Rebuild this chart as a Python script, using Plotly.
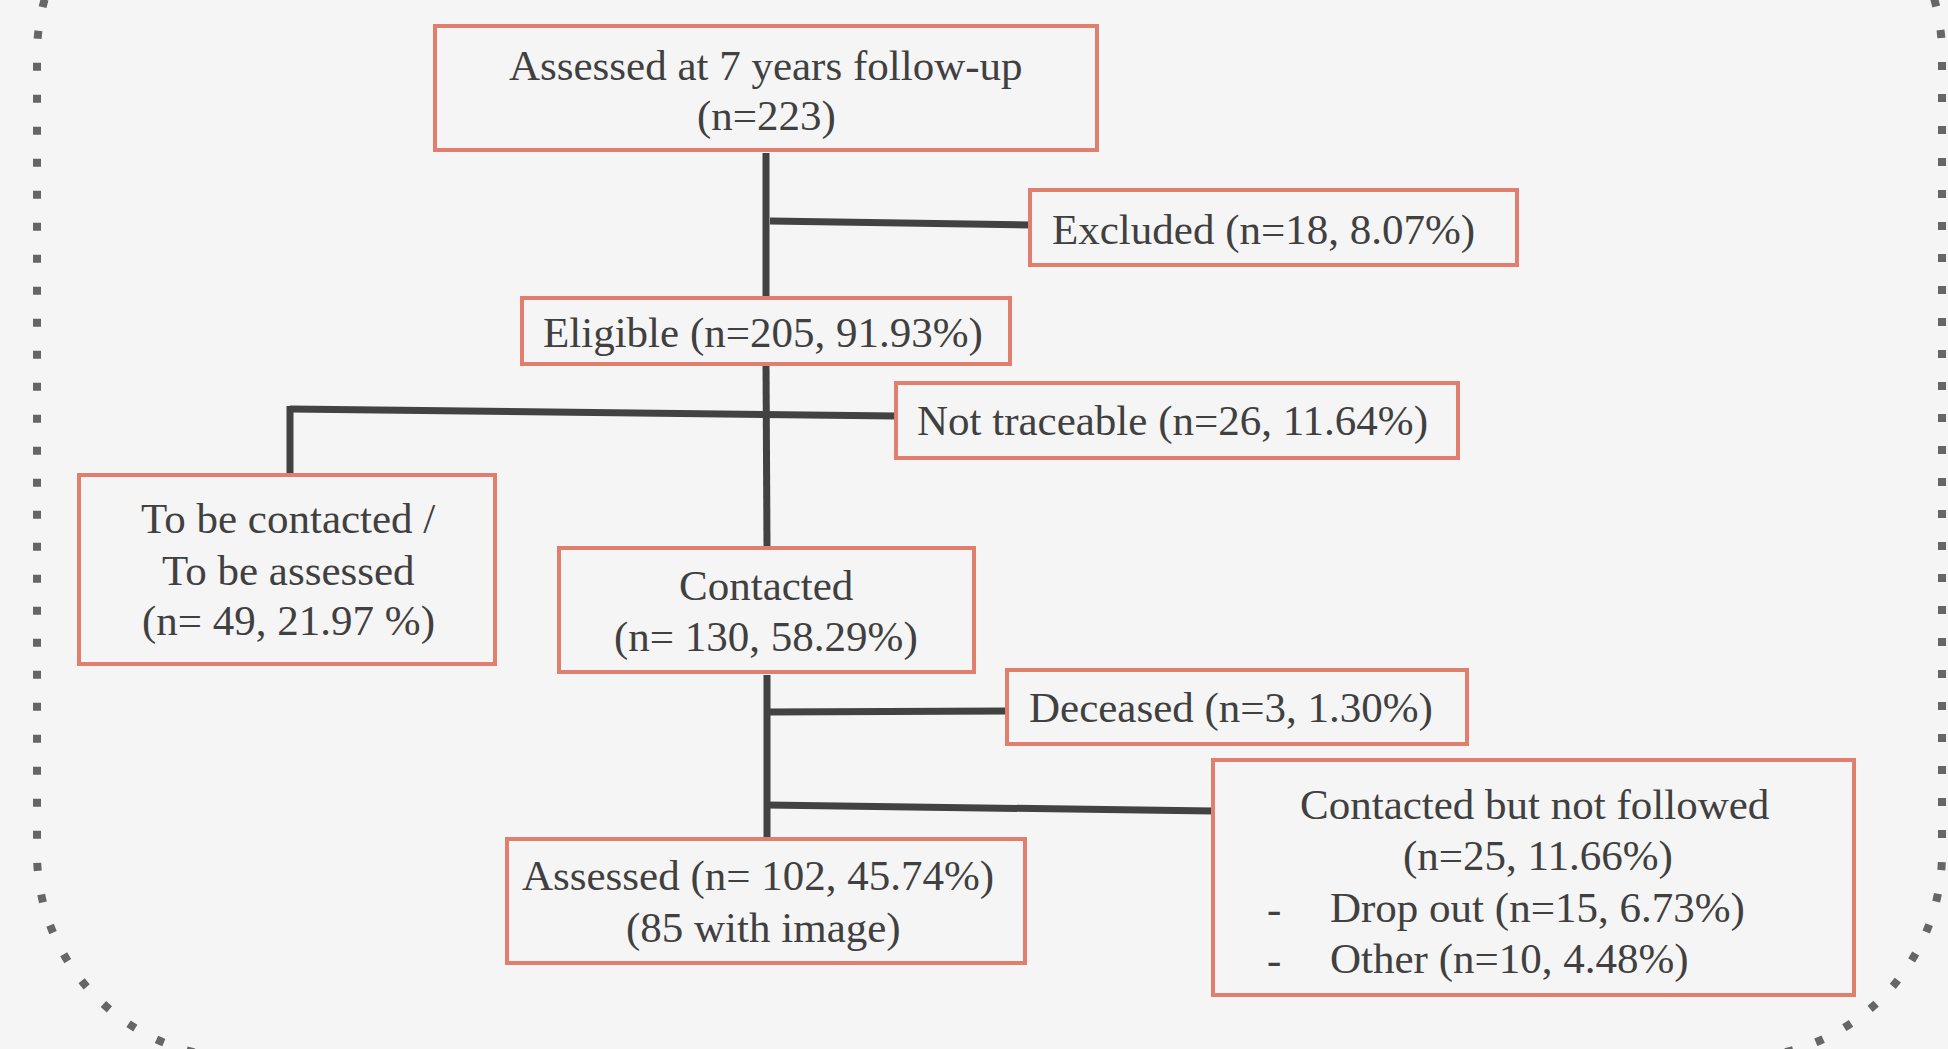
import plotly.graph_objects as go

# ---------------- data ----------------
node_names = ["Assessed at 7 years follow-up", "Excluded", "Eligible", "Not traceable",
              "To be contacted /", "Contacted", "Deceased", "Contacted but not followed",
              "Assessed", "Drop out", "Other"]
node_counts = [223, 18, 205, 26, 49, 130, 3, 25, 102, 15, 10]
node_pcts = [None, "8.07", "91.93", "11.64", "21.97", "58.29", "1.30", "11.66", "45.74", "6.73", "4.48"]
with_image = 85

# ---------------- styles ----------------
W, H = 1948, 1049
BG = "#f5f5f5"
BOX_COLOR = "#e07f6e"
LINE_COLOR = "#424242"
TEXT_COLOR = "#404040"
FONT = "Liberation Serif, Times New Roman, serif"
FS = 43

# text lines per box
texts = {
    "top": [f"{node_names[0]}", f"(n={node_counts[0]})"],
    "excl": [f"{node_names[1]} (n={node_counts[1]}, {node_pcts[1]}%)"],
    "elig": [f"{node_names[2]} (n={node_counts[2]}, {node_pcts[2]}%)"],
    "notr": [f"{node_names[3]} (n={node_counts[3]}, {node_pcts[3]}%)"],
    "tobe": [node_names[4], "To be assessed", f"(n= {node_counts[4]}, {node_pcts[4]} %)"],
    "cont": [node_names[5], f"(n= {node_counts[5]}, {node_pcts[5]}%)"],
    "dec": [f"{node_names[6]} (n={node_counts[6]}, {node_pcts[6]}%)"],
    "cbnf": [node_names[7], f"(n={node_counts[7]}, {node_pcts[7]}%)",
             f"{node_names[9]} (n={node_counts[9]}, {node_pcts[9]}%)",
             f"{node_names[10]} (n={node_counts[10]}, {node_pcts[10]}%)"],
    "ass": [f"{node_names[8]} (n= {node_counts[8]}, {node_pcts[8]}%)", f"({with_image} with image)"],
}

# layout of boxes (x0, y0, x1, y1) in pixels, y downward
boxes = {
    "top": (435, 26, 1097, 150),
    "excl": (1030, 190, 1517, 265),
    "elig": (522, 298, 1010, 364),
    "notr": (896, 383, 1458, 458),
    "tobe": (79, 475, 495, 664),
    "cont": (559, 548, 974, 672),
    "dec": (1007, 670, 1467, 744),
    "cbnf": (1213, 760, 1854, 995),
    "ass": (507, 839, 1025, 963),
}

# text placements: list of (x, y, anchor) per line
text_pos = {
    "top": [(766, 65, "center"), (766, 116, "center")],
    "excl": [(1050, 230, "left")],
    "elig": [(541, 333, "left")],
    "notr": [(915, 421, "left")],
    "tobe": [(288, 518, "center"), (288, 570, "center"), (288, 621, "center")],
    "cont": [(766, 585, "center"), (766, 637, "center")],
    "dec": [(1027, 708, "left")],
    "cbnf": [(1534, 804, "center"), (1538, 856, "center"), (1328, 908, "left"), (1328, 959, "left")],
    "ass": [(758, 876, "center"), (763, 928, "center")],
}
bullets = [(1274, 908), (1274, 959)]

# connectors (x0, y0, x1, y1)
connectors = [
    (766, 153, 766, 298),
    (770, 221, 1030, 225),
    (766, 364, 767, 548),
    (290, 409, 896, 416),
    (290, 406, 290, 475),
    (767, 675, 767, 839),
    (767, 712, 1007, 711),
    (767, 805, 1213, 811),
]

fig = go.Figure()
fig.add_trace(go.Scatter(x=[0, W], y=[0, H], mode="markers", marker=dict(opacity=0),
                         hoverinfo="skip", showlegend=False))

shapes = []

# dotted rounded outer frame
x0, x1, yt, yb, r = 37, 1942, -150, 1058, 205
k = 0.5523 * r
path = (f"M {x0+r},{yt} L {x1-r},{yt} "
        f"C {x1-r+k},{yt} {x1},{yt+r-k} {x1},{yt+r} "
        f"L {x1},{yb-r} "
        f"C {x1},{yb-r+k} {x1-r+k},{yb} {x1-r},{yb} "
        f"L {x0+r},{yb} "
        f"C {x0+r-k},{yb} {x0},{yb-r+k} {x0},{yb-r} "
        f"L {x0},{yt+r} "
        f"C {x0},{yt+r-k} {x0+r-k},{yt} {x0+r},{yt} Z")
shapes.append(dict(type="path", path=path, xref="x", yref="y",
                   line=dict(color="#666666", width=8, dash="8px,24px"), layer="below"))

for (a, b, c, d) in connectors:
    shapes.append(dict(type="line", x0=a, y0=b, x1=c, y1=d, xref="x", yref="y",
                       line=dict(color=LINE_COLOR, width=7)))

for key, (a, b, c, d) in boxes.items():
    shapes.append(dict(type="rect", x0=a, y0=b, x1=c, y1=d, xref="x", yref="y",
                       line=dict(color=BOX_COLOR, width=4), fillcolor=BG))

annotations = []
for key, lines in texts.items():
    for line, (tx, ty, anc) in zip(lines, text_pos[key]):
        annotations.append(dict(x=tx, y=ty, xref="x", yref="y", text=line, showarrow=False,
                                xanchor=anc, yanchor="middle",
                                font=dict(family=FONT, size=FS, color=TEXT_COLOR)))
for (bx, by) in bullets:
    annotations.append(dict(x=bx, y=by, xref="x", yref="y", text="-", showarrow=False,
                            xanchor="center", yanchor="middle",
                            font=dict(family=FONT, size=FS, color=TEXT_COLOR)))

fig.update_layout(
    width=W, height=H,
    margin=dict(l=0, r=0, t=0, b=0),
    paper_bgcolor=BG, plot_bgcolor=BG,
    xaxis=dict(range=[0, W], visible=False, fixedrange=True),
    yaxis=dict(range=[H, 0], visible=False, fixedrange=True),
    shapes=shapes, annotations=annotations, showlegend=False,
)

fig.write_html("out.html", config={"displayModeBar": False},
               post_script="document.body.style.margin='0';document.body.style.padding='0';"
                           "document.body.style.background='#f5f5f5';"
                           "document.body.style.overflow='hidden';")
